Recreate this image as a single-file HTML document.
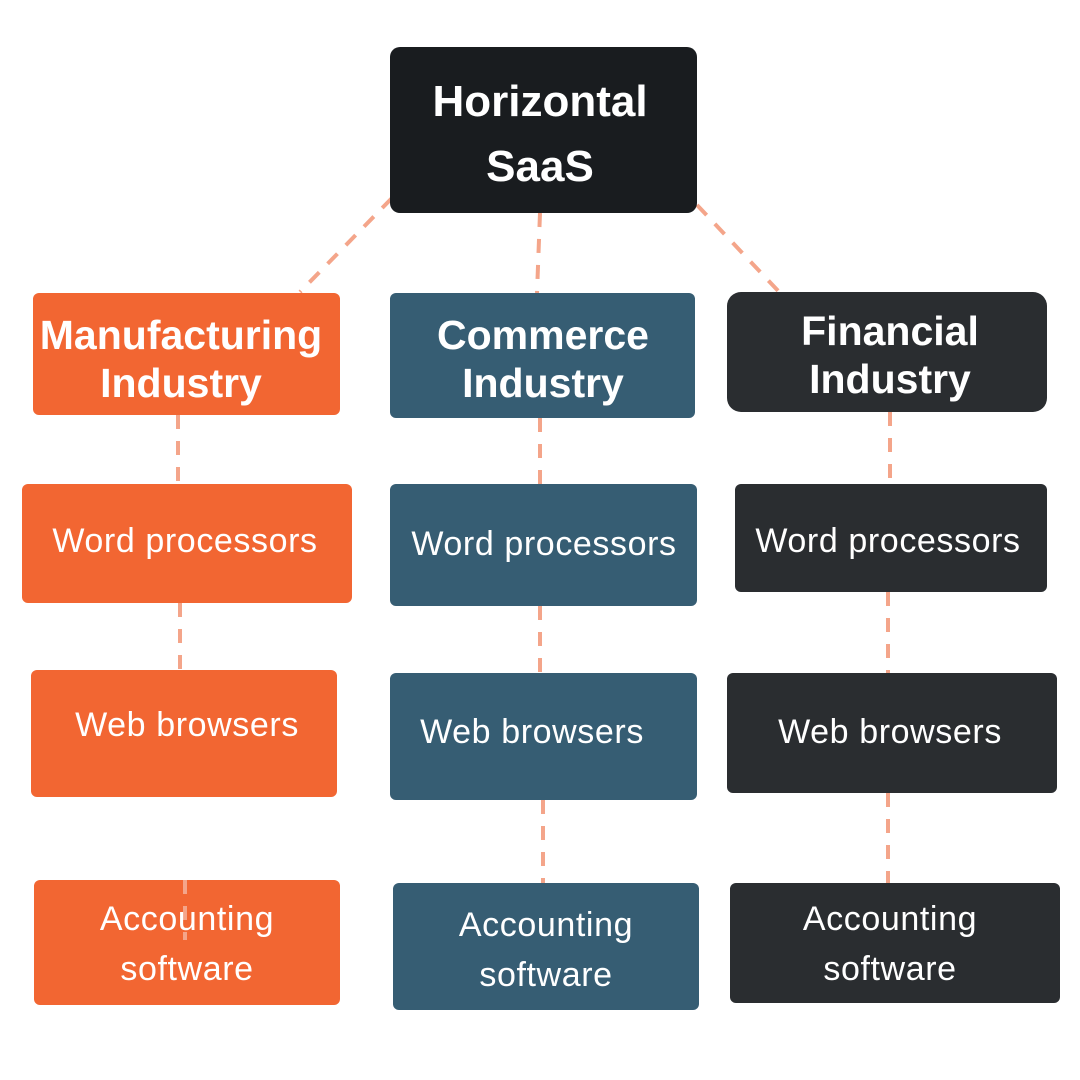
<!DOCTYPE html>
<html><head><meta charset="utf-8"><style>
html,body{margin:0;padding:0;background:#fff;}
svg{display:block;}
text{font-family:"Liberation Sans",sans-serif;fill:#fff;text-anchor:middle;}
.h{font-weight:bold;font-size:41px;}
.t{font-weight:bold;font-size:44px;}
.r{font-size:34px;letter-spacing:0.6px;}
</style></head><body>
<svg width="1080" height="1080" viewBox="0 0 1080 1080">
<g stroke="#F4A58A" stroke-width="4" stroke-dasharray="14,12" fill="none">
<line x1="392" y1="198" x2="300" y2="292"/>
<line x1="540" y1="213" x2="537" y2="293"/>
<line x1="697" y1="205" x2="782" y2="295"/>
<line x1="178" y1="415" x2="178" y2="484"/>
<line x1="180" y1="603" x2="180" y2="670"/>
<line x1="540" y1="418" x2="540" y2="484"/>
<line x1="540" y1="606" x2="540" y2="673"/>
<line x1="543" y1="800" x2="543" y2="883"/>
<line x1="890" y1="412" x2="890" y2="484"/>
<line x1="888" y1="592" x2="888" y2="673"/>
<line x1="888" y1="793" x2="888" y2="883"/>
</g>
<rect x="390" y="47" width="307" height="166" rx="10" fill="#191C1F"/>
<text class="t" x="540" y="116">Horizontal</text>
<text class="t" x="540" y="181">SaaS</text>

<rect x="33" y="293" width="307" height="122" rx="6" fill="#F26632"/>
<text class="h" x="181" y="349">Manufacturing</text>
<text class="h" x="181" y="397">Industry</text>
<rect x="390" y="293" width="305" height="125" rx="6" fill="#365D73"/>
<text class="h" x="543" y="349">Commerce</text>
<text class="h" x="543" y="397">Industry</text>
<rect x="727" y="292" width="320" height="120" rx="14" fill="#2A2D30"/>
<text class="h" x="890" y="345">Financial</text>
<text class="h" x="890" y="393">Industry</text>

<rect x="22" y="484" width="330" height="119" rx="6" fill="#F26632"/>
<text class="r" x="185" y="552">Word processors</text>
<rect x="390" y="484" width="307" height="122" rx="6" fill="#365D73"/>
<text class="r" x="544" y="555">Word processors</text>
<rect x="735" y="484" width="312" height="108" rx="6" fill="#2A2D30"/>
<text class="r" x="888" y="552">Word processors</text>

<rect x="31" y="670" width="306" height="127" rx="6" fill="#F26632"/>
<text class="r" x="187" y="736">Web browsers</text>
<rect x="390" y="673" width="307" height="127" rx="6" fill="#365D73"/>
<text class="r" x="532" y="743">Web browsers</text>
<rect x="727" y="673" width="330" height="120" rx="6" fill="#2A2D30"/>
<text class="r" x="890" y="743">Web browsers</text>

<rect x="34" y="880" width="306" height="125" rx="6" fill="#F26632"/>
<line x1="185" y1="880" x2="185" y2="940" stroke="#F4A58A" stroke-width="4" stroke-dasharray="14,12"/>
<text class="r" x="187" y="930">Accounting</text>
<text class="r" x="187" y="980">software</text>
<rect x="393" y="883" width="306" height="127" rx="6" fill="#365D73"/>
<text class="r" x="546" y="936">Accounting</text>
<text class="r" x="546" y="986">software</text>
<rect x="730" y="883" width="330" height="120" rx="6" fill="#2A2D30"/>
<text class="r" x="890" y="930">Accounting</text>
<text class="r" x="890" y="980">software</text>
</svg>
</body></html>
